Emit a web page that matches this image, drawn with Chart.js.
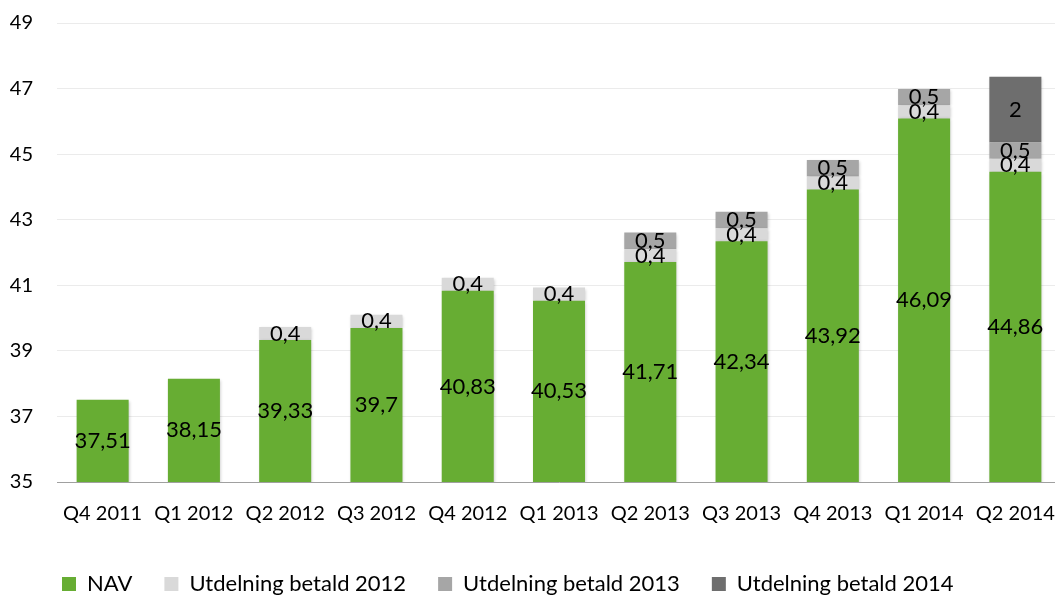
<!DOCTYPE html>
<html>
<head>
<meta charset="utf-8">
<script src="https://cdn.jsdelivr.net/npm/chart.js@4"></script>
<style>
  html, body { margin: 0; padding: 0; background: #fff; overflow: hidden; }
  #wrap { width: 1061px; height: 599px; }
</style>
</head>
<body>
<div id="wrap"><canvas id="chart"></canvas></div>
<script>
// NAV per quarter plus paid dividends stacked on top
const quarters = ["Q4 2011", "Q1 2012", "Q2 2012", "Q3 2012", "Q4 2012", "Q1 2013", "Q2 2013", "Q3 2013", "Q4 2013", "Q1 2014", "Q2 2014"];
// bar heights as drawn in the original (last bar sits lower than its label says)
const nav = [37.51, 38.15, 39.33, 39.7, 40.83, 40.53, 41.71, 42.34, 43.92, 46.09, 44.46];
const navText = ["37,51", "38,15", "39,33", "39,7", "40,83", "40,53", "41,71", "42,34", "43,92", "46,09", "44,86"];
const utd2012 = [null, null, 0.4, 0.4, 0.4, 0.4, 0.4, 0.4, 0.4, 0.4, 0.4];
const utd2013 = [null, null, null, null, null, null, 0.5, 0.5, 0.5, 0.5, 0.5];
const utd2014 = [null, null, null, null, null, null, null, null, null, null, 2];
const yTicks = [35, 37, 39, 41, 43, 45, 47, 49];

const FONT = "Lato, 'Open Sans', sans-serif";
const fmtNum = (n) => String(n).replace(".", ",");

// value labels in the middle of each segment
const segLabels = {
    id: "segLabels",
    beforeDatasetsDraw(chart) {
        const ctx = chart.ctx;
        ctx.save();
        ctx.shadowColor = "rgba(0,0,0,0.22)";
        ctx.shadowBlur = 3;
        ctx.shadowOffsetX = 1;
        ctx.shadowOffsetY = 1;
    },
    afterDatasetsDraw(chart) {
        const ctx = chart.ctx;
        ctx.restore();
        ctx.save();
        ctx.font = "22px " + FONT;
        ctx.fillStyle = "#000";
        ctx.textAlign = "center";
        ctx.textBaseline = "middle";
        const bottom = chart.chartArea.bottom;
        chart.data.datasets.forEach((ds, i) => {
            const meta = chart.getDatasetMeta(i);
            meta.data.forEach((bar, j) => {
                const v = ds.data[j];
                if (v == null) return;
                const txt = ds.texts ? ds.texts[j] : fmtNum(v);
                const yMid = (bar.y + Math.min(bar.base, bottom)) / 2;
                ctx.fillText(txt, bar.x, yMid);
            });
        });
        ctx.restore();
    },
    // put the legend row where the original has it
    afterLayout(chart) {
        const L = chart.legend;
        const pad = L.options.labels.padding;
        const dy = (586 - 13) - (L.top + pad);
        L.top += dy; L.bottom += dy;
        const dx = 62 - (L.left + pad);
        L.left += dx; L.right += dx;
    }
};

const mk = (label, data, color) => ({
    label,
    data,
    backgroundColor: color,
    borderWidth: 0,
    barPercentage: 0.57,
    categoryPercentage: 1,
});

const navSet = mk("NAV", nav, "#67ad33");
navSet.texts = navText;

new Chart(document.getElementById("chart"), {
    type: "bar",
    data: {
        labels: quarters,
        datasets: [
            navSet,
            mk("Utdelning betald 2012", utd2012, "#d9d9d9"),
            mk("Utdelning betald 2013", utd2013, "#a6a6a6"),
            mk("Utdelning betald 2014", utd2014, "#6e6e6e"),
        ]
    },
    options: {
        responsive: true,
        maintainAspectRatio: false,
        animation: false,
        layout: { padding: { top: 23, right: 0, left: 0, bottom: 0 } },
        plugins: {
            legend: {
                position: "bottom",
                align: "start",
                labels: {
                    color: "#000",
                    font: { size: 22, family: FONT },
                    boxWidth: 14,
                    boxHeight: 14,
                    padding: 32,
                }
            },
            tooltip: { enabled: false }
        },
        scales: {
            x: {
                stacked: true,
                grid: { display: false, drawTicks: false },
                border: { color: "#a0a0a0", width: 1 },
                ticks: { color: "#000", font: { size: 20, family: FONT }, padding: 20, maxRotation: 0, autoSkip: false },
                afterFit: (s) => {
                    s.paddingLeft = 0; s.paddingRight = 0;
                    s.height = 117 - s.chart.legend.height;
                }
            },
            y: {
                stacked: true,
                min: 35,
                max: 49,
                afterBuildTicks: (s) => { s.ticks = yTicks.map(v => ({ value: v })); },
                grid: { color: "#ebebeb", drawTicks: false },
                border: { display: false },
                ticks: { color: "#000", font: { size: 20, family: FONT }, padding: 24 },
                afterFit: (s) => { s.width = 57; s.paddingTop = 0; s.paddingBottom = 0; }
            }
        }
    },
    plugins: [segLabels]
});
</script>
</body>
</html>
